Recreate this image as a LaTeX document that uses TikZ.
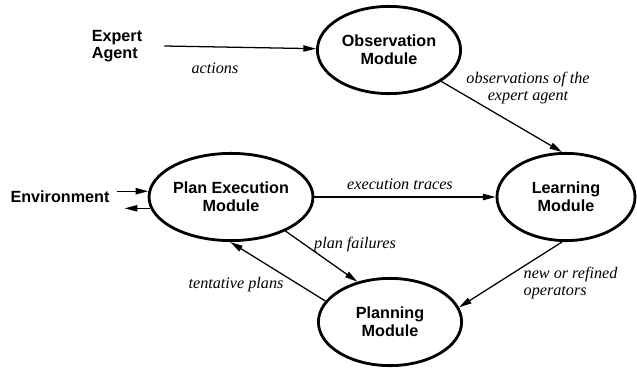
\documentclass[tikz,border=0pt]{standalone}
\usepackage{fontspec}
\setmainfont{Liberation Serif}
\setsansfont{Liberation Sans}
\usetikzlibrary{arrows.meta,shapes.geometric,positioning}
\tikzset{
  module/.style={
    draw, ellipse, line width=2pt,
    minimum width=3.58cm, minimum height=2.18cm,
    inner sep=0pt, align=center,
    font=\fontsize{11.5}{12.5}\selectfont\sffamily\bfseries
  },
  agent/.style={
    inner sep=0pt, align=left,
    font=\fontsize{11.5}{12}\selectfont\sffamily\bfseries
  },
  flow/.style={
    -{Triangle[length=9pt,width=4.5pt]}, line width=0.9pt
  },
  lbl/.style={
    inner sep=1pt, align=center,
    font=\fontsize{11.5}{12.5}\selectfont\itshape
  },
}
\begin{document}
\begin{tikzpicture}[x=0.025cm, y=-0.025cm]
  \useasboundingbox (0,0) rectangle (637,368);

  % Modules
  \node[module] (obs) at (389,50) {Observation\\Module};
  \node[module] (pe) at (231,197) {Plan Execution\\Module};
  \node[module, minimum width=3.45cm] (learn) at (566,197) {Learning\\Module};
  \node[module] (plan) at (390,322) {Planning\\Module};

  % Outside
  \node[agent] (expert) at (117,46) {Expert\\Agent};
  \node[agent] (env) at (60,197) {Environment};

  % Flows
  \draw[flow] ([xshift=0.55cm]expert.east) -- (obs);
  \draw[flow] (obs.-31) -- (learn.95);
  \draw[flow] (pe) -- (learn);
  \draw[flow] (pe.-32) -- (plan.129);
  \draw[flow] (plan.162) -- (pe.269);
  \draw[flow] (learn.265) -- (plan.12);
  \draw[flow] ([xshift=0.175cm]env.east |- pe.176) -- (pe.176);
  \draw[flow] (pe.188) -- ([xshift=0.375cm]env.east |- pe.188);

  % Labels
  \node[lbl] (actlbl) at (215,68) {actions};
  \node[lbl] (obslbl) at (528,88) {observations of the\\expert agent};
  \node[lbl] (exlbl) at (400,184) {execution traces};
  \node[lbl] (pflbl) at (355,245) {plan failures};
  \node[lbl] (tplbl) at (236,285) {tentative plans};
  \node[lbl, align=left, anchor=west] (oplbl) at (522,283) {new or refined\\operators};

\end{tikzpicture}
\end{document}
